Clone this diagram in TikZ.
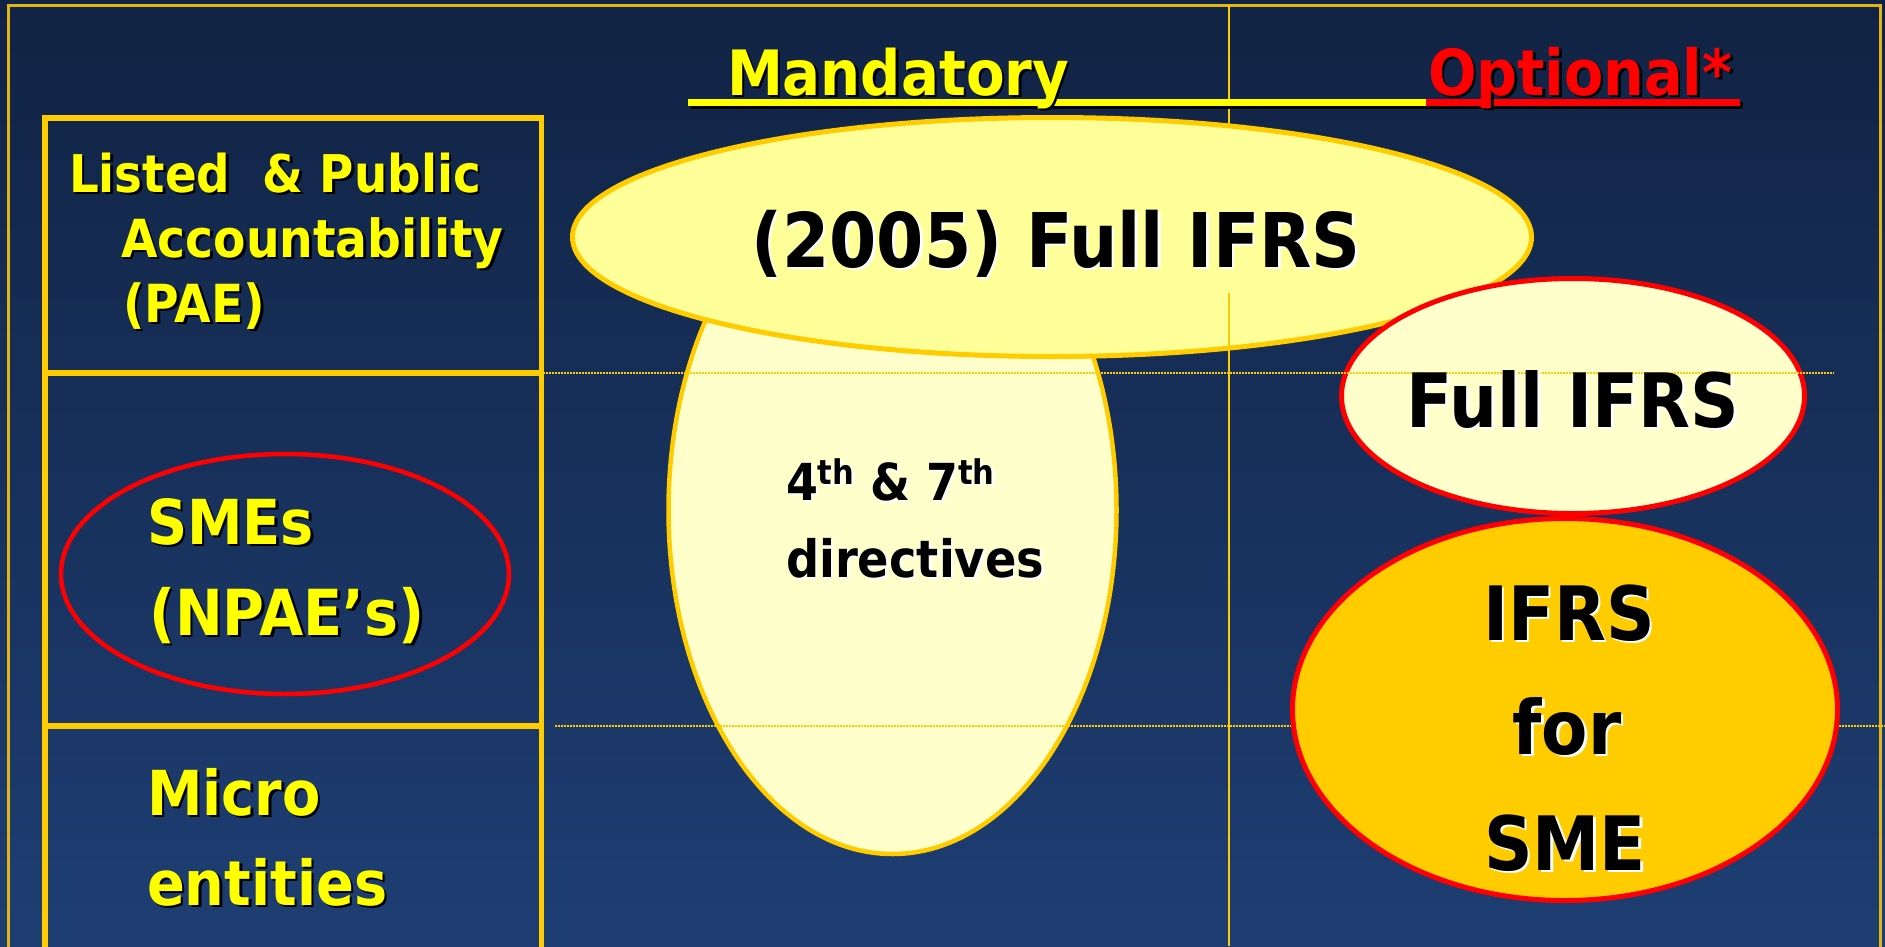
\documentclass[tikz,border=0pt]{standalone}
\usepackage{fontspec}
\usetikzlibrary{shapes.geometric}
\newfontfamily\labelfont{DejaVu Sans Bold}[FakeStretch=0.9]
\newcommand\fsz[1]{\labelfont\fontsize{#1}{#1}\selectfont}
\newcommand\supth{{\fsz{34}\raisebox{16pt}{th}}}
\definecolor{bgtop}{RGB}{17,35,68}
\definecolor{bgbot}{RGB}{30,62,115}
\definecolor{gold}{RGB}{255,204,0}
\definecolor{framegold}{RGB}{226,180,20}
\definecolor{paleyellow}{RGB}{255,255,153}
\definecolor{cream}{RGB}{255,255,204}
\definecolor{txtyellow}{RGB}{255,255,0}
\definecolor{txtred}{RGB}{255,0,0}
\tikzset{
  lbl/.style={inner sep=0pt, outer sep=0pt},
  oval/.style={ellipse, inner sep=0pt, outer sep=0pt},
  dotrule/.style={gold, line width=1.5pt, dash pattern=on 1.5pt off 1.5pt},
  rowbox/.style={draw=gold, line width=5.5pt},
}
% text with a drop shadow: name, anchor, x, y, font, colour, shadow colour, text
\newcommand\shtext[8]{%
  \node[lbl,anchor=#2,text=#7,font=#5] (#1-shadow) at (#3+2.5,#4+2.5) {#8};
  \node[lbl,anchor=#2,text=#6,font=#5] (#1) at (#3,#4) {#8};}
\begin{document}
\begin{tikzpicture}[x=1pt,y=-1pt]
\useasboundingbox (0,0) rectangle (1885,946);
% background
\shade[top color=bgtop,bottom color=bgbot] (0,0) rectangle (1885,946);
% frame and column divider
\draw[framegold, line width=2.5pt] (8.5,960) -- (8.5,5.5) -- (1880.5,5.5) -- (1880.5,960);
\draw[gold, line width=1.5pt] (1229,5) -- (1229,946);

% header underline
\fill[black] (691,102) rectangle (1743,109);
\fill[txtyellow] (688,99) rectangle (1426,106);
\fill[txtred] (1426,99) rectangle (1740,106);
\shtext{mand}{base west}{727}{95}{\fsz{62.5}}{txtyellow}{black}{Mandatory}
\shtext{opt}{base west}{1428}{95}{\fsz{63.5}}{txtred}{black}{Optional*}

% left column of entity classes
\draw[rowbox] (45,118) rectangle (541.5,373);
\draw[rowbox] (45,373) rectangle (541.5,726);
\draw[rowbox] (45,726) rectangle (541.5,980);
\shtext{listed}{base west}{69}{192}{\fsz{52}}{txtyellow}{black}{Listed~~\& Public}
\shtext{account}{base west}{121}{257}{\fsz{52.5}}{txtyellow}{black}{Accountability}
\shtext{pae}{base west}{123}{322}{\fsz{52.5}}{txtyellow}{black}{(PAE)}
\node[oval, draw=txtred, line width=4.5pt, minimum width=448pt, minimum height=240pt] (smeoval) at (285,574) {};
\shtext{smes}{base west}{147}{544}{\fsz{62}}{txtyellow}{black}{SMEs}
\shtext{npae}{base west}{149}{635}{\fsz{63.5}}{txtyellow}{black}{(NPAE’s)}
\shtext{micro}{base west}{147}{815}{\fsz{62}}{txtyellow}{black}{Micro}
\shtext{entities}{base west}{147}{905}{\fsz{62}}{txtyellow}{black}{entities}

% mandatory column
\node[oval, draw=gold, fill=cream, line width=4.5pt, minimum width=448pt, minimum height=688pt] (directives) at (892.5,510) {};
\node[oval, draw=gold, fill=paleyellow, line width=5pt, minimum width=959pt, minimum height=239pt] (full2005) at (1052,237) {};
\shtext{t2005}{base}{1056}{267}{\fsz{75.5}}{black}{white}{(2005) Full IFRS}
\shtext{d1}{base west}{786}{500}{\fsz{51}}{black}{white}{4\supth{} \& 7\supth}
\shtext{d2}{base west}{786}{577}{\fsz{51.5}}{black}{white}{directives}

% optional column
\node[oval, draw=txtred, fill=cream, line width=5pt, minimum width=463pt, minimum height=235pt] (fullopt) at (1573,396) {};
\draw[dotrule] (555,726) -- (1885,726);
\node[oval, draw=txtred, fill=gold, line width=5pt, minimum width=545pt, minimum height=382pt] (ifrssme) at (1565,709.5) {};
\draw[dotrule] (543,373) -- (1834,373);
\draw[dotrule] (1519,726) -- (1603,726);
\draw[gold, line width=1.5pt] (1229,293) -- (1229,946);
\shtext{fullr}{base}{1573}{427}{\fsz{75}}{black}{white}{Full IFRS}
\shtext{ifrs}{base}{1569}{640}{\fsz{75}}{black}{white}{IFRS}
\shtext{for}{base}{1567}{754}{\fsz{75}}{black}{white}{for}
\shtext{sme}{base}{1565}{870}{\fsz{75}}{black}{white}{SME}
\end{tikzpicture}
\end{document}
